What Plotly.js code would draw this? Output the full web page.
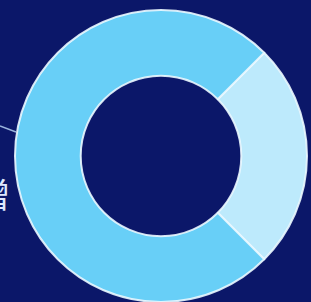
<!DOCTYPE html>
<html>
<head>
<meta charset="utf-8">
<script src="https://cdn.plot.ly/plotly-3.0.1.min.js"></script>
<style>html,body{margin:0;padding:0;background:#0b1769;}#chart{width:311px;height:302px;}</style>
</head>
<body>
<div id="chart"></div>
<script>
const labels = ["A", "B"];
const values = [25, 75];
const colors = ["#bdeafc", "#68cff7"];
const sideLabel = "增";

const W = 311, H = 302;
const cx = 161, cy = 156, R = 146;

const data = [{
  type: "pie",
  labels: labels,
  values: values,
  hole: 0.55,
  sort: false,
  direction: "clockwise",
  rotation: 45,
  textinfo: "none",
  hoverinfo: "none",
  marker: {colors: colors, line: {color: "rgba(235,248,255,0.9)", width: 2}},
  domain: {x: [(cx - R) / W, (cx + R) / W], y: [(H - cy - R) / H, (H - cy + R) / H]},
  showlegend: false
}];

const layout = {
  width: W, height: H,
  margin: {l: 0, r: 0, t: 0, b: 0},
  paper_bgcolor: "#0b1769",
  plot_bgcolor: "#0b1769",
  showlegend: false,
  shapes: [{
    type: "line", xref: "paper", yref: "paper",
    x0: 0 / W, y0: 1 - 126 / H, x1: 16 / W, y1: 1 - 132 / H,
    line: {color: "rgba(190,220,250,0.8)", width: 1.5}
  }],
  annotations: [{
    text: sideLabel, xref: "paper", yref: "paper",
    x: -7 / W, y: 1 - 194 / H, xanchor: "center", yanchor: "middle",
    showarrow: false, font: {size: 34, color: "#dfe8ff", family: "Noto Sans CJK SC"}
  }]
};

Plotly.newPlot("chart", data, layout, {displayModeBar: false, staticPlot: true});
</script>
</body>
</html>
